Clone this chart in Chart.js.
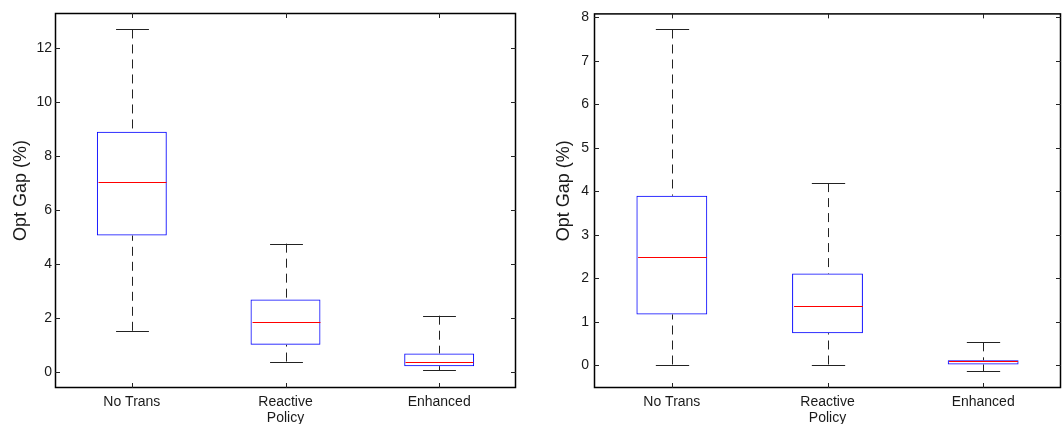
<!DOCTYPE html>
<html>
<head>
<meta charset="utf-8">
<script src="https://cdn.jsdelivr.net/npm/chart.js@4.4.0/dist/chart.umd.min.js"></script>
<style>
body { margin: 0; background: #fff; }
#wrap { position: relative; width: 1064px; height: 424px; overflow: hidden; }
canvas { position: absolute; top: 0; }
</style>
</head>
<body>
<div id="wrap">
  <canvas id="left" width="532" height="424" style="left:0"></canvas>
  <canvas id="right" width="532" height="424" style="left:532px"></canvas>
</div>
<script>
// categories on the x axis
const categories = ['No Trans', ['Reactive', 'Policy'], 'Enhanced'];

// left panel (box stats, %)
const leftLow  = [1.52, 0.38, 0.05];
const leftQ1   = [5.05, 1.00, 0.21];
const leftMed  = [7.04, 1.84, 0.37];
const leftQ3   = [8.90, 2.68, 0.68];
const leftHigh = [12.69, 4.75, 2.08];
const leftTicks = [0, 2, 4, 6, 8, 10, 12];

// right panel
const rightLow  = [0.02, 0.02, -0.13];
const rightQ1   = [1.17, 0.74, 0.02];
const rightMed  = [2.50, 1.36, 0.09];
const rightQ3   = [3.90, 2.11, 0.12];
const rightHigh = [7.72, 4.19, 0.53];
const rightTicks = [0, 1, 2, 3, 4, 5, 6, 7, 8];

Chart.defaults.font.family = '"Liberation Sans", Arial, sans-serif';
Chart.defaults.color = '#1a1a1a';

// whiskers, caps and median lines on top of the floating bars
function whiskerPlugin(low, q1, med, q3, high) {
    return {
        id: 'whiskers',
        afterDatasetsDraw(chart) {
            const ctx = chart.ctx;
            const x = chart.scales.x, y = chart.scales.y;
            const bars = chart.getDatasetMeta(0).data;
            ctx.save();
            ctx.lineWidth = 1;
            bars.forEach((bar, i) => {
                const cx = Math.round(x.getPixelForValue(i)) + 0.5;
                const half = bar.width / 2;
                const cap = half * 0.47;
                const yLow = y.getPixelForValue(low[i]);
                const yHigh = y.getPixelForValue(high[i]);
                const yQ1 = y.getPixelForValue(q1[i]);
                const yQ3 = y.getPixelForValue(q3[i]);
                const yMed = Math.round(y.getPixelForValue(med[i])) + 0.5;

                ctx.strokeStyle = '#222';
                ctx.setLineDash([9, 6]);
                ctx.beginPath();
                ctx.moveTo(cx, yHigh); ctx.lineTo(cx, yQ3);
                ctx.moveTo(cx, yLow); ctx.lineTo(cx, yQ1);
                ctx.stroke();

                ctx.setLineDash([]);
                ctx.beginPath();
                ctx.moveTo(cx - cap, Math.round(yHigh) + 0.5); ctx.lineTo(cx + cap, Math.round(yHigh) + 0.5);
                ctx.moveTo(cx - cap, Math.round(yLow) + 0.5); ctx.lineTo(cx + cap, Math.round(yLow) + 0.5);
                ctx.stroke();

                ctx.strokeStyle = '#ff0000';
                ctx.beginPath();
                ctx.moveTo(cx - half + 1, yMed); ctx.lineTo(cx + half - 1, yMed);
                ctx.stroke();
            });
            ctx.restore();
        }
    };
}

// matlab style box frame with inward ticks
const framePlugin = {
    id: 'frame',
    afterDraw(chart) {
        const ctx = chart.ctx;
        const {left, right, top, bottom} = chart.chartArea;
        const x = chart.scales.x, y = chart.scales.y;
        ctx.save();
        ctx.strokeStyle = '#000';
        ctx.lineWidth = 1.5;
        ctx.strokeRect(left + 0.5, top + 0.5, right - left - 1, bottom - top - 1);
        ctx.lineWidth = 1;
        ctx.strokeStyle = '#222';
        ctx.beginPath();
        y.ticks.forEach(t => {
            const py = Math.round(y.getPixelForValue(t.value)) + 0.5;
            ctx.moveTo(left, py); ctx.lineTo(left + 5, py);
            ctx.moveTo(right - 5, py); ctx.lineTo(right, py);
        });
        categories.forEach((c, i) => {
            const px = Math.round(x.getPixelForValue(i)) + 0.5;
            ctx.moveTo(px, top); ctx.lineTo(px, top + 5);
            ctx.moveTo(px, bottom - 5); ctx.lineTo(px, bottom);
        });
        ctx.stroke();
        ctx.restore();
    }
};

function makeChart(id, low, q1, med, q3, high, ticks, yMin, yMax, axisW, padRight, tickPad, titlePad) {
    return new Chart(document.getElementById(id), {
        type: 'bar',
        data: {
            labels: categories,
            datasets: [{
                data: q1.map((v, i) => [v, q3[i]]),
                backgroundColor: 'rgba(0,0,0,0)',
                borderColor: '#0000ff',
                borderWidth: 1,
                borderSkipped: false,
                categoryPercentage: 1,
                barPercentage: 0.455
            }]
        },
        options: {
            responsive: false,
            animation: false,
            devicePixelRatio: 1,
            layout: { padding: { left: 0, right: padRight, top: 13, bottom: 0 } },
            plugins: { legend: { display: false }, tooltip: { enabled: false } },
            scales: {
                x: {
                    grid: { display: false, drawTicks: false },
                    border: { display: false },
                    ticks: { font: { size: 14, lineHeight: 1.15 }, padding: 6, maxRotation: 0, autoSkip: false },
                    afterFit: s => { s.height = 36; }
                },
                y: {
                    min: yMin,
                    max: yMax,
                    grid: { display: false, drawTicks: false },
                    border: { display: false },
                    ticks: { font: { size: 14 }, padding: tickPad },
                    afterBuildTicks: s => { s.ticks = ticks.map(v => ({ value: v })); },
                    afterFit: s => { s.width = axisW; },
                    title: {
                        display: true,
                        text: '    Opt Gap (%)',
                        font: { size: 18 },
                        padding: { top: titlePad, bottom: 0 }
                    }
                }
            }
        },
        plugins: [whiskerPlugin(low, q1, med, q3, high), framePlugin]
    });
}

makeChart('left', leftLow, leftQ1, leftMed, leftQ3, leftHigh, leftTicks, -0.6, 13.3, 55, 16, 3, 10);
makeChart('right', rightLow, rightQ1, rightMed, rightQ3, rightHigh, rightTicks, -0.52, 8.09, 62, 3, 5, 21);
</script>
</body>
</html>
